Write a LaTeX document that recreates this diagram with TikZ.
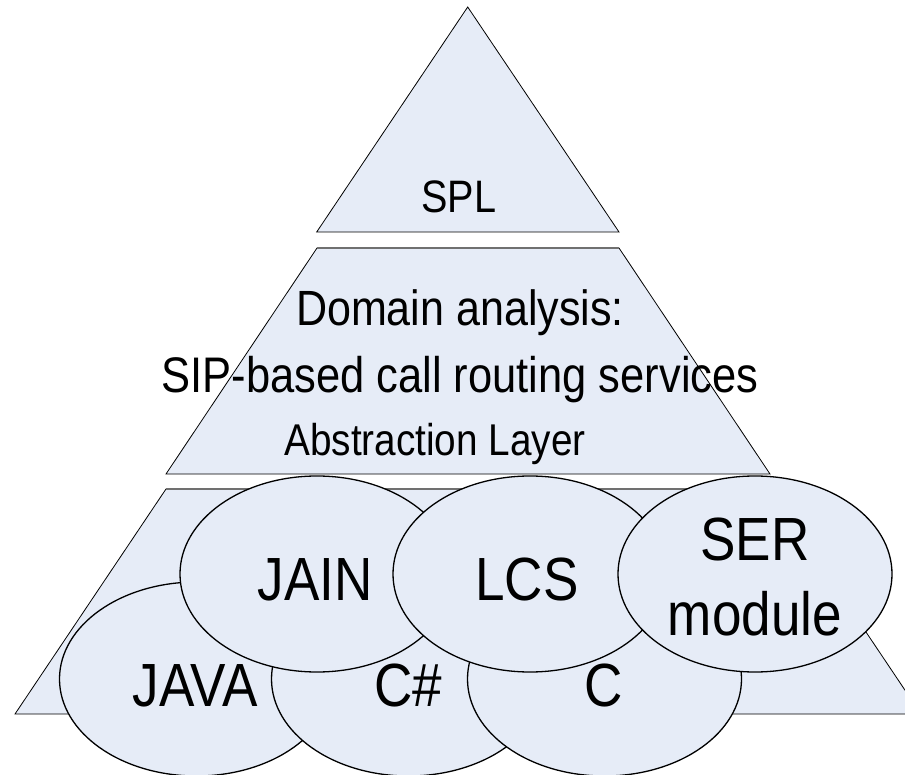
\documentclass[tikz,border=0pt]{standalone}
\usepackage{fontspec}
\setmainfont{Liberation Sans}[FakeStretch=0.87]
\usetikzlibrary{shapes.geometric}
\definecolor{layerfill}{HTML}{E6ECF7}
\definecolor{edgegray}{HTML}{707070}
\tikzset{
  layer/.style={fill=layerfill, draw=black, line width=0.8pt, line join=miter},
  topedge/.style={draw=edgegray, line width=1.4pt},
  tech/.style={ellipse, draw=black, fill=layerfill, line width=1.3pt,
               minimum width=274pt, minimum height=194pt, inner sep=0pt},
  techtext/.style={font=\fontsize{61}{75}\selectfont, inner sep=0pt, anchor=base},
  pyrtext/.style={inner sep=0pt, anchor=base}
}
\begin{document}
\begin{tikzpicture}[x=1pt, y=-1pt]
\useasboundingbox (0,0) rectangle (905,775);
\clip (0,0) rectangle (905,775);

% pyramid apex: SPL
\coordinate (apex) at (467.7,7);
\coordinate (splL) at (316.7,232);
\coordinate (splR) at (619,232);
\path[layer] (apex) -- (splR) -- (splL) -- cycle;
\node[pyrtext, font=\fontsize{45.5}{50}\selectfont] (spl) at (459,213) {SPL};

% middle layer: domain analysis
\coordinate (midTL) at (317,248);
\coordinate (midTR) at (619,248);
\coordinate (midBR) at (770,474);
\coordinate (midBL) at (166,474);
\path[layer] (midTL) -- (midTR) -- (midBR) -- (midBL) -- cycle;
\draw[topedge] (midTL) -- (midTR);

% bottom layer: implementation technologies
\coordinate (botTL) at (166,489);
\coordinate (botTR) at (770,489);
\coordinate (botBR) at (921,714);
\coordinate (botBL) at (15,714);
\path[layer] (botTL) -- (botTR) -- (botBR) -- (botBL) -- cycle;
\draw[topedge] (botTL) -- (botTR);

% domain analysis texts
\node[pyrtext, font=\fontsize{49.5}{55}\selectfont] (dom) at (460,326) {Domain analysis:};
\node[pyrtext, font=\fontsize{50}{55}\selectfont] (sip) at (460,392) {SIP-based call routing services};
\node[pyrtext, font=\fontsize{44.5}{50}\selectfont] (abs) at (435,455) {Abstraction Layer};

% technology ellipses, back to front
\node[tech] (java) at (196.5,679) {};
\node[tech] (csharp) at (408.5,679) {};
\node[tech] (clang) at (604.5,679) {};
\node[tech, minimum height=196pt] (jain) at (317,574) {};
\node[tech, minimum height=196pt] (lcs) at (530,574) {};
\node[tech, minimum height=196pt] (ser) at (755,574) {};

\node[techtext] (javat) at (195,706.7) {JAVA};
\node[techtext] (csharpt) at (408,706.7) {C\#};
\node[techtext] (clangt) at (604,706.7) {C};
\node[techtext] (jaint) at (315,600) {JAIN};
\node[techtext] (lcst) at (527,600) {LCS};
\node[techtext, anchor=north, align=center] (sert) at (755,518) {SER\\module};
\end{tikzpicture}
\end{document}
